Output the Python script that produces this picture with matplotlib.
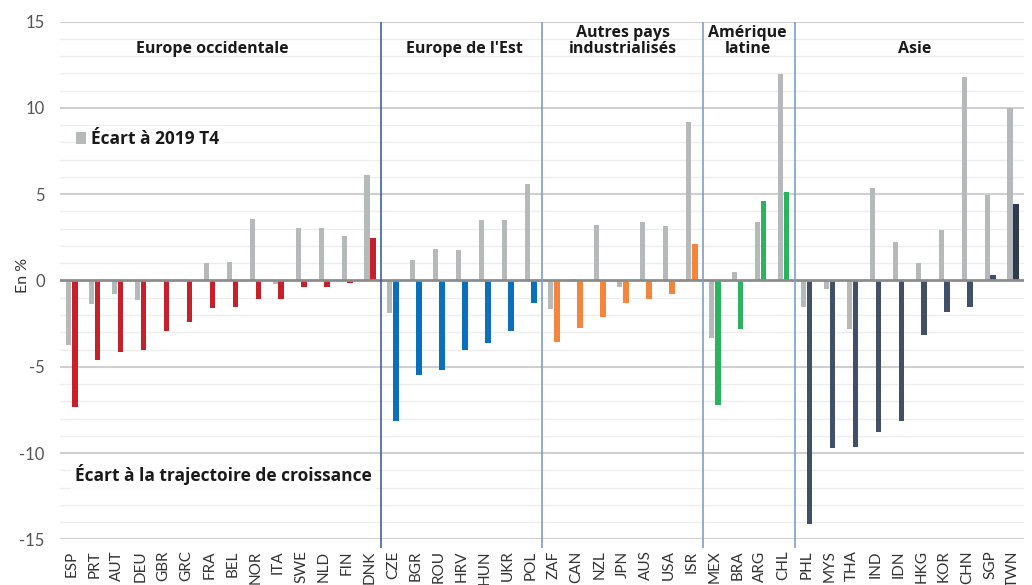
import matplotlib
matplotlib.use("Agg")
import matplotlib.pyplot as plt
from matplotlib.patches import Rectangle
import numpy as np

countries = ["ESP", "PRT", "AUT", "DEU", "GBR", "GRC", "FRA", "BEL", "NOR", "ITA", "SWE", "NLD", "FIN", "DNK",
             "CZE", "BGR", "ROU", "HRV", "HUN", "UKR", "POL",
             "ZAF", "CAN", "NZL", "JPN", "AUS", "USA", "ISR",
             "MEX", "BRA", "ARG", "CHL",
             "PHL", "MYS", "THA", "IND", "IDN", "HKG", "KOR", "CHN", "SGP", "TWN"]

ecart_2019 = [-3.74, -1.37, -0.81, -1.14, 0.0, 0.0, 1.0, 1.06, 3.58, -0.21, 3.04, 3.04, 2.56, 6.1,
              -1.91, 1.19, 1.81, 1.77, 3.52, 3.48, 5.58,
              -1.66, 0.09, 3.21, -0.37, 3.39, 3.14, 9.2,
              -3.32, 0.5, 3.41, 11.94,
              -1.51, -0.5, -2.8, 5.37, 2.25, 1.02, 2.92, 11.79, 4.95, 10.0]

ecart_traj = [-7.35, -4.59, -4.17, -4.03, -2.91, -2.41, -1.6, -1.53, -1.08, -1.08, -0.39, -0.35, -0.12, 2.46,
              -8.15, -5.5, -5.21, -4.05, -3.65, -2.9, -1.28,
              -3.59, -2.78, -2.14, -1.28, -1.1, -0.81, 2.12,
              -7.23, -2.84, 4.6, 5.12,
              -14.09, -9.72, -9.66, -8.79, -8.15, -3.18, -1.8, -1.51, 0.3, 4.45]

groups = ["Europe occidentale", "Europe de l'Est", "Autres pays\nindustrialisés", "Amérique\nlatine", "Asie"]
group_sizes = [14, 7, 7, 4, 10]
group_colors = ["#c8202a", "#0a70bd", "#f5843c", "#2ab45e", "#3f5068"]
label_x = [6.12, 17.12, 24.03, 29.45, 36.74]

legend_grey = "Écart à 2019 T4"
legend_traj = "Écart à la trajectoire de croissance"

plt.rcParams['font.family'] = ['Lato', 'DejaVu Sans']
BOLD = ['Open Sans', 'DejaVu Sans']

fig = plt.figure(figsize=(10.32, 5.85), dpi=100)
ax = fig.add_axes([0.0581, 0.0781, 0.9346, 0.8849])

x = np.arange(len(countries))
colors = []
for c, n in zip(group_colors, group_sizes):
    colors += [c] * n
colors[-1] = "#2b3b50"

# grid
for v in range(-15, 16):
    if v == 0:
        continue
    if v % 5 == 0:
        ax.axhline(v, color="#cfcfcf", lw=1.5, zorder=0)
    else:
        ax.axhline(v, color="#ededed", lw=1.0, zorder=0)

ax.bar(x - 0.13, ecart_2019, width=0.22, color="#b5b9b9", zorder=2)
ax.bar(x + 0.14, ecart_traj, width=0.25, color=colors, zorder=2)
ax.axhline(0, color="#8c8c8c", lw=2, zorder=3)

# group separators
bounds = np.cumsum(group_sizes)[:-1] - 0.5
for i, b in enumerate(bounds):
    col = "#3a63a8" if i == 0 else "#7d9dd3"
    ax.vlines(b, -15.5, 15, color=col, lw=1.2, clip_on=False, zorder=4)

# group headers
for gx, g in zip(label_x, groups):
    ax.text(gx, 13.16, g, ha="center", va="baseline", fontsize=11.5, family=BOLD,
            fontweight="bold", color="#1a1a1a", linespacing=1.05, zorder=5)

# legend-like labels
ax.text(0.86, 7.89, legend_grey, ha="left", va="baseline", fontsize=12.5, family=BOLD,
        fontweight="bold", color="#1a1a1a", zorder=6,
        bbox=dict(facecolor="white", edgecolor="none", pad=3))
ax.add_patch(Rectangle((0.18, 7.89), 0.44, 0.71, facecolor="#b5b9b9",
                       edgecolor="none", zorder=7))
ax.text(0.15, -11.62, legend_traj, ha="left", va="baseline", fontsize=12.5, family=BOLD,
        fontweight="bold", color="#1a1a1a", zorder=6,
        bbox=dict(facecolor="white", edgecolor="none", pad=3))

ax.set_xlim(-0.5, len(countries) - 0.5)
ax.set_ylim(-15, 15)
ax.set_yticks([-15, -10, -5, 0, 5, 10, 15])
ax.set_yticklabels(["-15", "-10", "-5", "0", "5", "10", "15"])
ax.set_xticks(x)
ax.set_xticklabels(countries, rotation=90)
ax.tick_params(axis="x", length=0, pad=8, labelsize=11, labelcolor="#333333")
ax.tick_params(axis="y", length=0, pad=11, labelsize=12, labelcolor="#555555")
for s in ax.spines.values():
    s.set_visible(False)
ax.set_ylabel("En %", fontsize=11.5, color="#333333")
ax.yaxis.set_label_coords(-0.031, 0.51)

fig.savefig("out.png", dpi=100)
